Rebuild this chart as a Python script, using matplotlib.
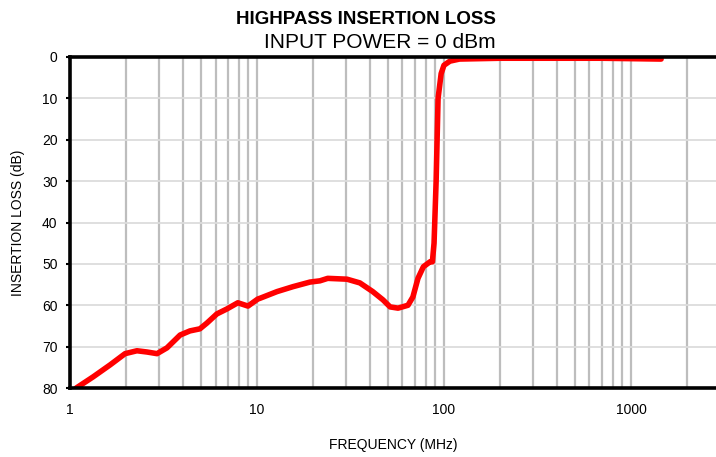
import numpy as np
import matplotlib.pyplot as plt
from matplotlib.ticker import FixedLocator, NullFormatter

# Datos (MHz, dB)
freq_mhz = [1.08, 1.33, 1.64, 1.97, 2.28, 2.58, 2.92, 3.30, 3.88, 4.38, 4.95, 5.4,
            6.1, 6.9, 7.9, 8.95, 10.1, 10.4, 12.8, 15.6, 19.2, 21.7, 23.9, 30.3,
            35.5, 41.6, 47.2, 51.5, 56.8, 64.2, 68.2, 72.6, 77.6, 84.2, 86.7,
            88.5, 90.8, 93.0, 96.6, 100.0, 107.6, 121, 200, 356, 700, 1000, 1450]
loss_db = [80.0, 77.3, 74.4, 71.7, 71.0, 71.3, 71.7, 70.3, 67.2, 66.2, 65.7, 64.3,
           62.1, 60.9, 59.4, 60.2, 58.5, 58.3, 56.7, 55.5, 54.4, 54.1, 53.5, 53.7,
           54.6, 56.7, 58.7, 60.4, 60.7, 60.0, 58.0, 53.5, 50.7, 49.5, 49.5,
           45.0, 30.0, 10.0, 4.0, 2.0, 1.0, 0.5, 0.3, 0.3, 0.3, 0.4, 0.5]

y_ticks = [0, 10, 20, 30, 40, 50, 60, 70, 80]
x_major = [1, 10, 100, 1000]
x_grid = [2, 3, 4, 5, 6, 7, 8, 9, 10, 20, 30, 40, 50, 60, 70, 80, 90, 100,
          200, 300, 400, 500, 600, 700, 800, 900, 1000, 2000]

plt.rcParams['font.family'] = ['Liberation Sans', 'DejaVu Sans']

fig = plt.figure(figsize=(7.16, 4.57), dpi=100)
ax = fig.add_axes([70 / 716, 1 - 388 / 457, 1 - 70 / 716, (388 - 57) / 457])

# Rejilla
for xv in x_grid:
    ax.axvline(xv, color='#bdbdbd', lw=1.6, zorder=1)
for yv in y_ticks[1:-1]:
    ax.axhline(yv, color='#dcdcdc', lw=1.3, zorder=1)

ax.plot(freq_mhz, loss_db, color='#ff0000', lw=4, solid_capstyle='round',
        solid_joinstyle='round', zorder=3)

ax.set_xscale('log')
ax.set_xlim(1, 2850)
ax.set_ylim(80, 0)
ax.xaxis.set_major_locator(FixedLocator(x_major))
ax.xaxis.set_major_formatter(plt.FuncFormatter(lambda v, p: f'{v:g}'))
ax.xaxis.set_minor_formatter(NullFormatter())
ax.tick_params(axis='x', which='both', length=0, labelsize=10, pad=11)
ax.set_yticks(y_ticks)
ax.tick_params(axis='y', length=3, width=1.5, labelsize=10, pad=6)

for s in ['top', 'bottom', 'left']:
    ax.spines[s].set_linewidth(2.6)
    ax.spines[s].set_zorder(4)
ax.spines['right'].set_visible(False)

ax.set_xlabel('FREQUENCY (MHz)', fontsize=10, labelpad=15)
ax.set_ylabel('INSERTION LOSS (dB)', fontsize=10, labelpad=12)

fig.text(366 / 716, 1 - 19 / 457, 'HIGHPASS INSERTION LOSS', ha='center', va='center',
         fontsize=13.5, fontweight='bold')
fig.text(380 / 716, 1 - 42 / 457, 'INPUT POWER = 0 dBm', ha='center', va='center',
         fontsize=15)

fig.savefig('out.png', dpi=100)
